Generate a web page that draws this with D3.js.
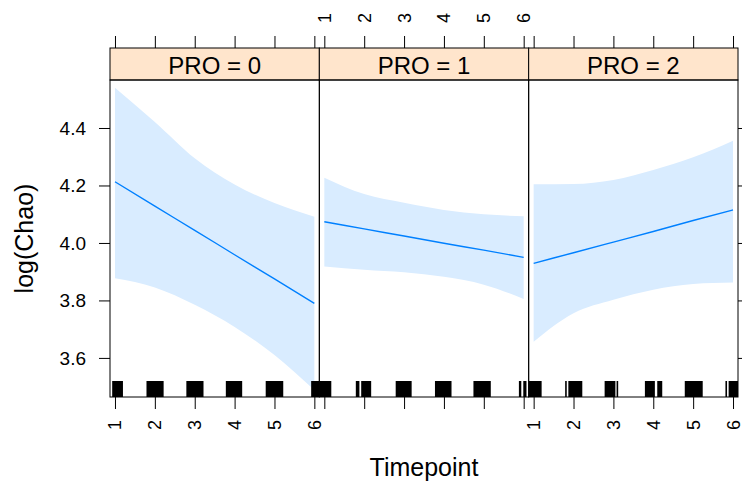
<!DOCTYPE html>
<html><head><meta charset="utf-8">
<script src="https://cdn.jsdelivr.net/npm/d3@7"></script>
<style>
body{margin:0;background:#fff}
text{font-family:Arial,"Liberation Sans",sans-serif;fill:#000}
</style>
</head><body>
<svg id="chart" width="742" height="484"></svg>
<script>
// ---------- data ----------
const panelLabels = ["PRO = 0", "PRO = 1", "PRO = 2"];
const timepoints = [1, 2, 3, 4, 5, 6];
const yTickValues = [3.6, 3.8, 4.0, 4.2, 4.4];

const fitPRO0   = [4.213, 4.128, 4.044, 3.959, 3.875, 3.790];
const lowerPRO0 = [3.877, 3.845, 3.785, 3.708, 3.610, 3.488];
const upperPRO0 = [4.540, 4.421, 4.295, 4.203, 4.139, 4.091];

const fitPRO1   = [4.074, 4.049, 4.024, 3.999, 3.975, 3.950];
const lowerPRO1 = [3.918, 3.907, 3.898, 3.882, 3.855, 3.805];
const upperPRO1 = [4.227, 4.170, 4.140, 4.115, 4.100, 4.093];

const fitPRO2   = [3.929, 3.966, 4.003, 4.040, 4.078, 4.115];
const lowerPRO2 = [3.656, 3.755, 3.802, 3.837, 3.857, 3.862];
const upperPRO2 = [4.204, 4.205, 4.219, 4.254, 4.298, 4.356];

// rug clusters (jittered Timepoint observations), [from, to]
const rugPRO0 = [[0.93,1.20],[1.79,2.22],[2.79,3.22],[3.78,4.19],[4.78,5.22],[5.92,6.13]];
const rugPRO1 = [[0.80,1.175],[1.79,1.88],[1.925,2.175],[2.79,3.19],[3.775,4.19],[4.74,5.175],[5.88,5.94],[5.99,6.07]];
const rugPRO2 = [[0.875,1.20],[1.79,1.83],[1.87,2.22],[2.78,3.05],[3.08,3.12],[3.79,4.04],[4.10,4.225],[4.79,5.24],[5.81,5.85],[5.89,6.13]];

// ---------- layout ----------
const svg = d3.select("#chart");
const pLeft = 110, pRight = 738, pTop = 80, pBottom = 397;
const stripTop = 48;
const pw = (pRight - pLeft) / 3;
const lineCol = "#0080ff", bandCol = "#d9ecff", stripCol = "#ffe5cc";

const yScale = d3.scaleLinear().domain([3.464, 4.567]).range([pBottom, pTop]);

const panelData = [
  {fit: fitPRO0, lo: lowerPRO0, hi: upperPRO0, rug: rugPRO0},
  {fit: fitPRO1, lo: lowerPRO1, hi: upperPRO1, rug: rugPRO1},
  {fit: fitPRO2, lo: lowerPRO2, hi: upperPRO2, rug: rugPRO2}
];

const defs = svg.append("defs");

panelData.forEach((pd, i) => {
  const x0 = pLeft + i * pw;
  const x = d3.scaleLinear().domain([0.875, 6.125]).range([x0, x0 + pw]);
  const clipId = "clip" + i;
  defs.append("clipPath").attr("id", clipId)
    .append("rect").attr("x", x0).attr("y", pTop).attr("width", pw).attr("height", pBottom - pTop);
  const g = svg.append("g").attr("clip-path", `url(#${clipId})`);

  const rows = timepoints.map((t, k) => ({t, f: pd.fit[k], lo: pd.lo[k], hi: pd.hi[k]}));
  g.append("path").datum(rows)
    .attr("fill", bandCol)
    .attr("d", d3.area().x(d => x(d.t)).y0(d => yScale(d.lo)).y1(d => yScale(d.hi)).curve(d3.curveMonotoneX));
  g.append("path").datum(rows)
    .attr("fill", "none").attr("stroke", lineCol).attr("stroke-width", 1.4)
    .attr("d", d3.line().x(d => x(d.t)).y(d => yScale(d.f)).curve(d3.curveMonotoneX));

  g.selectAll("rect.rug").data(pd.rug).join("rect").attr("class", "rug")
    .attr("x", d => x(d[0])).attr("width", d => Math.max(1.2, x(d[1]) - x(d[0])))
    .attr("y", pBottom - 16).attr("height", 16).attr("fill", "#000");

  // bottom ticks
  const bAxis = svg.append("g").attr("transform", `translate(0,${pBottom})`)
    .call(d3.axisBottom(x).tickValues(timepoints).tickSize(12).tickSizeOuter(0)
      .tickFormat(i === 1 ? "" : d3.format("d")));
  bAxis.select(".domain").remove();
  bAxis.selectAll(".tick line").attr("stroke", "#000");
  bAxis.selectAll(".tick text")
    .attr("x", 0).attr("y", 0).attr("dy", null)
    .attr("text-anchor", "middle").attr("dominant-baseline", "central")
    .attr("transform", "translate(0,28) rotate(-90)")
    .style("font-size", "18px");

  // top ticks above strip
  const tAxis = svg.append("g").attr("transform", `translate(0,${stripTop})`)
    .call(d3.axisTop(x).tickValues(timepoints).tickSize(12).tickSizeOuter(0)
      .tickFormat(i === 1 ? d3.format("d") : ""));
  tAxis.select(".domain").remove();
  tAxis.selectAll(".tick line").attr("stroke", "#000");
  tAxis.selectAll(".tick text")
    .attr("x", 0).attr("y", 0).attr("dy", null)
    .attr("text-anchor", "middle").attr("dominant-baseline", "central")
    .attr("transform", "translate(0,-30) rotate(-90)")
    .style("font-size", "18px");

  // strip
  svg.append("rect").attr("x", x0).attr("y", stripTop).attr("width", pw).attr("height", pTop - stripTop)
    .attr("fill", stripCol).attr("stroke", "#000").attr("stroke-width", 1);
  svg.append("text").attr("x", x0 + pw / 2).attr("y", (stripTop + pTop) / 2 + 1)
    .attr("text-anchor", "middle").attr("dominant-baseline", "central")
    .style("font-size", "24px").text(panelLabels[i]);

  // panel frame
  svg.append("rect").attr("x", x0).attr("y", pTop).attr("width", pw).attr("height", pBottom - pTop)
    .attr("fill", "none").attr("stroke", "#000").attr("stroke-width", 1);
});

// left y axis
const lAxis = svg.append("g").attr("transform", `translate(${pLeft},0)`)
  .call(d3.axisLeft(yScale).tickValues(yTickValues).tickSize(11).tickSizeOuter(0).tickFormat(d3.format(".1f")));
lAxis.select(".domain").remove();
lAxis.selectAll(".tick line").attr("stroke", "#000");
lAxis.selectAll(".tick text").attr("x", -24).style("font-size", "19px");

// right y axis ticks
const rAxis = svg.append("g").attr("transform", `translate(${pRight},0)`)
  .call(d3.axisRight(yScale).tickValues(yTickValues).tickSize(11).tickSizeOuter(0).tickFormat(""));
rAxis.select(".domain").remove();
rAxis.selectAll(".tick line").attr("stroke", "#000");

// axis titles
svg.append("text").attr("x", (pLeft + pRight) / 2).attr("y", 476)
  .attr("text-anchor", "middle").style("font-size", "25px").text("Timepoint");
svg.append("text").attr("transform", `translate(33,${(pTop + pBottom) / 2}) rotate(-90)`)
  .attr("text-anchor", "middle").style("font-size", "25px").text("log(Chao)");
</script>
</body></html>
